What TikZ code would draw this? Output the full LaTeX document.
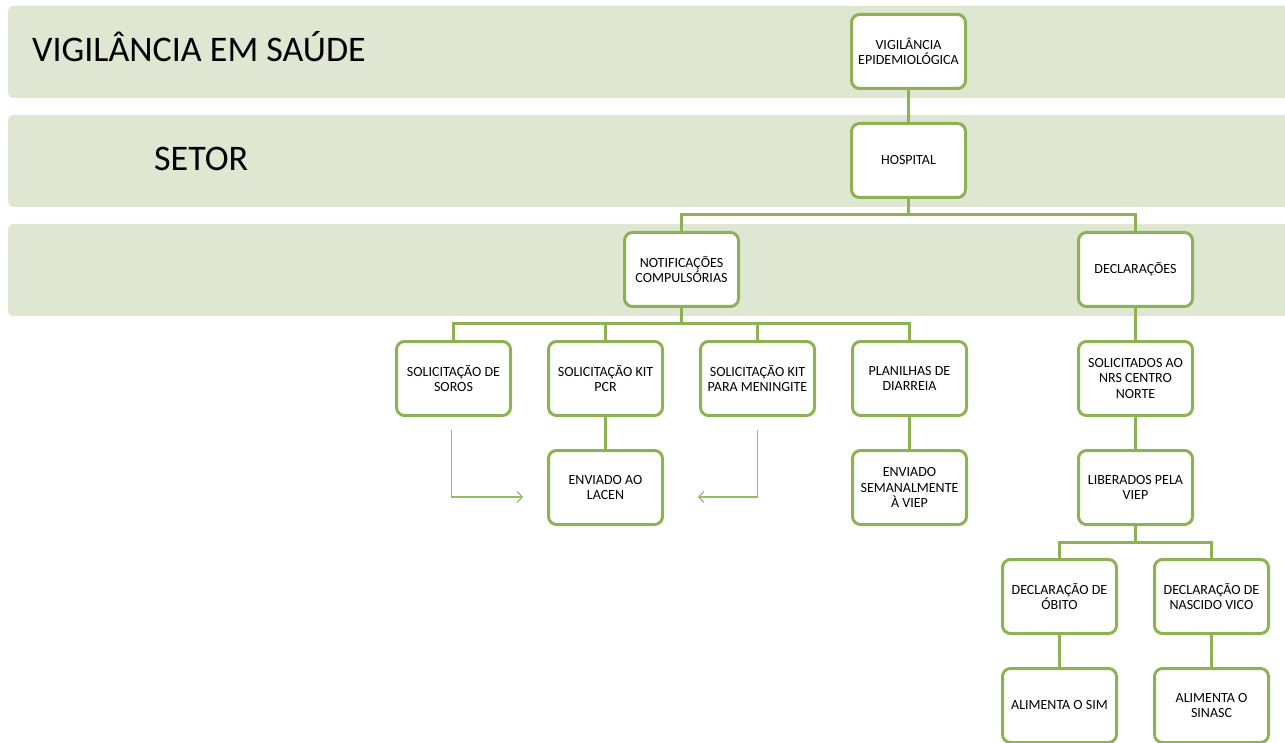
\documentclass[tikz,border=0pt]{standalone}
\usepackage{fontspec}
\setmainfont{Carlito}
\usepackage{tikz}
\usetikzlibrary{arrows.meta,calc}

\definecolor{bandgreen}{RGB}{223,231,210}
\definecolor{boxgreen}{RGB}{141,178,84}
\definecolor{arrowgreen}{RGB}{150,188,104}

\begin{document}
\begin{tikzpicture}[
  x=1pt, y=1pt,
  level distance=109pt,
  card/.style={draw=boxgreen, line width=3pt, rounded corners=8pt, fill=white,
    minimum width=114pt, minimum height=74pt, inner sep=2pt, align=center,
    font=\fontsize{14}{15.5}\selectfont},
  every child node/.style={card},
  edge from parent/.style={draw=boxgreen, line width=3pt},
  edge from parent path={(\tikzparentnode.south) -- +(0,-16) -| (\tikzchildnode.north)},
  level 2/.style={sibling distance=454pt},
  level 3/.style={sibling distance=152pt},
  level 6/.style={sibling distance=152pt},
  banner/.style={inner sep=0pt, anchor=base west, font=\fontsize{36}{40}\selectfont},
  sendline/.style={draw=arrowgreen, line width=1.2pt, -{Straight Barb[length=5pt,width=11pt]}},
]
  \useasboundingbox (0,0) rectangle (1285,-743);
  \clip (0,0) rectangle (1285,-743);

  % bands
  \fill[bandgreen, rounded corners=5pt] (8,-6) rectangle (1300,-98);
  \fill[bandgreen, rounded corners=5pt] (8,-115) rectangle (1300,-207);
  \fill[bandgreen, rounded corners=5pt] (8,-224) rectangle (1300,-316);
  \node[banner] (vs) at (32,-62) {VIGILÂNCIA EM SAÚDE};
  \node[banner] (setor) at (154,-171) {SETOR};

  \node[card] (vig) at (908.5,-51.5) {VIGILÂNCIA\\EPIDEMIOLÓGICA}
    child {node (hosp) {HOSPITAL}
      child {node (notif) {NOTIFICAÇÕES\\COMPULSÓRIAS}
        child {node (soros) {SOLICITAÇÃO DE\\SOROS}}
        child {node (pcr) {SOLICITAÇÃO KIT\\PCR}
          child {node (lacen) {ENVIADO AO\\LACEN}}
        }
        child {node (mening) {SOLICITAÇÃO KIT\\PARA MENINGITE}}
        child {node (diarreia) {PLANILHAS DE\\DIARREIA}
          child {node (semanal) {ENVIADO\\SEMANALMENTE\\À VIEP}}
        }
      }
      child {node (decl) {DECLARAÇÕES}
        child {node (nrs) {SOLICITADOS AO\\NRS CENTRO\\NORTE}
          child {node (viep) {LIBERADOS PELA\\VIEP}
            child {node (obito) {DECLARAÇÃO DE\\ÓBITO}
              child {node (sim) {ALIMENTA O SIM}}
            }
            child {node (nascido) {DECLARAÇÃO DE\\NASCIDO VICO}
              child {node (sinasc) {ALIMENTA O\\SINASC}}
            }
          }
        }
      }
    };

  % arrows to LACEN
  \coordinate (sorosout) at ($(soros.south)+(-2,-13)$);
  \coordinate (meningout) at ($(mening.south)+(0,-13)$);
  \coordinate (lacenleft) at ($(lacen.west)+(-24,-9.5)$);
  \coordinate (lacenright) at ($(lacen.east)+(34,-9.5)$);
  \draw[sendline] (sorosout) |- (lacenleft);
  \draw[sendline] (meningout) |- (lacenright);
\end{tikzpicture}
\end{document}
